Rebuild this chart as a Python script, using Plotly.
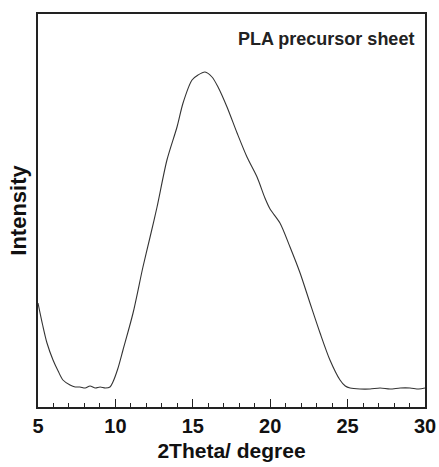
import plotly.graph_objects as go

two_theta = [5.00, 5.30, 5.58, 5.97, 6.30, 6.61, 7.07, 7.40, 7.71, 8.05, 8.36, 8.70, 9.01, 9.35, 9.65, 9.84,
             10.15, 10.49, 11.14, 11.78, 12.24, 12.69, 13.33, 13.98, 14.37, 14.95, 15.34, 15.79,
             16.24, 16.63, 17.21, 17.86, 18.50, 19.15, 19.66, 19.99, 20.63, 21.28, 21.93,
             22.57, 23.22, 23.86, 24.51, 24.85, 25.16, 25.80, 26.45, 27.10, 27.74, 28.40, 29.03, 29.60, 30.00]
intensity = [104, 82, 64, 47, 36, 27, 22, 20, 20, 19, 21, 19, 20, 19, 20, 25,
             38, 57, 94, 140, 170, 200, 247, 280, 304, 327, 332, 335,
             330, 320, 300, 274, 250, 230, 209, 198, 184, 160, 134,
             104, 74, 47, 27, 21, 19, 18, 18, 19, 18, 19, 19, 18, 19]

x_ticks = [5, 10, 15, 20, 25, 30]

fig = go.Figure()
fig.add_trace(go.Scatter(x=two_theta, y=intensity, mode="lines",
                         line=dict(color="#333333", width=1.1, shape="spline", smoothing=0.8),
                         showlegend=False))

fig.update_layout(
    width=439, height=467,
    margin=dict(l=38, r=14, t=14, b=60),
    paper_bgcolor="white", plot_bgcolor="white",
    font=dict(family="Liberation Sans, Arial, sans-serif", color="#111111"),
    annotations=[dict(text="<b>PLA precursor sheet</b>", x=0.978, y=0.968,
                      xref="paper", yref="paper", xanchor="right", yanchor="top",
                      showarrow=False, font=dict(size=18, color="#222222"))],
)
fig.update_xaxes(
    range=[5, 30], tickvals=x_ticks, ticktext=[f"<b>{v}</b>" for v in x_ticks],
    ticks="inside", ticklen=8, tickwidth=1.2, tickcolor="#222222",
    minor=dict(dtick=1, ticks="inside", ticklen=4, tickwidth=1, tickcolor="#222222"),
    showline=True, linecolor="#222222", linewidth=1.5, mirror=True,
    showgrid=False, zeroline=False, tickfont=dict(size=20), automargin=False,
    title=dict(text="<b>2Theta/ degree</b>", font=dict(size=21), standoff=8),
)
fig.update_yaxes(
    range=[0, 393], showticklabels=False, ticks="",
    showline=True, linecolor="#222222", linewidth=1.5, mirror=True,
    showgrid=False, zeroline=False, automargin=False,
    title=dict(text="<b>Intensity</b>", font=dict(size=22), standoff=4),
)

fig.write_html("out.html")
